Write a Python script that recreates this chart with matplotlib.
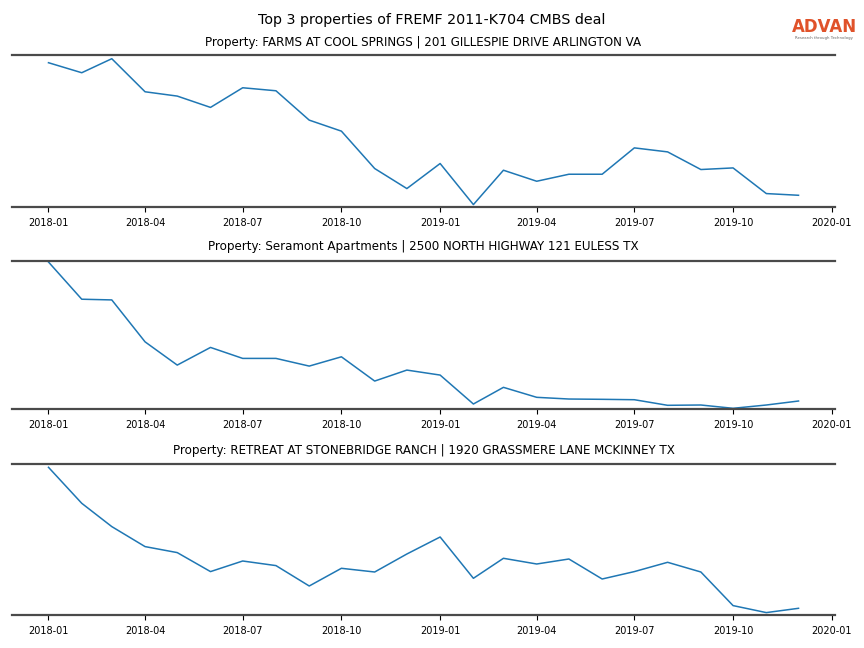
import matplotlib
matplotlib.use("Agg")
import matplotlib.pyplot as plt
import matplotlib.dates as mdates
import pandas as pd

dates = pd.date_range("2018-01-01", "2019-12-01", freq="MS")

titles = [
    "Property: FARMS AT COOL SPRINGS | 201 GILLESPIE DRIVE ARLINGTON VA",
    "Property: Seramont Apartments | 2500 NORTH HIGHWAY 121 EULESS TX",
    "Property: RETREAT AT STONEBRIDGE RANCH | 1920 GRASSMERE LANE MCKINNEY TX",
]

farms = [144, 134, 148, 115, 110.7, 99.4, 119, 116, 86.7, 75.7, 38.4, 18.4,
         43.4, 2.4, 36.7, 25.7, 32.7, 32.7, 59, 55, 37.4, 39, 13.4, 11.7]
seramont = [147.3, 110, 109.3, 67.3, 44, 61.7, 50.7, 50.7, 43, 52.3, 28, 39,
            34, 5, 21.7, 11.7, 10, 9.7, 9.3, 3.7, 4, 0.7, 4, 8]
retreat = [147.7, 111.7, 88.4, 68.4, 62.4, 43.4, 54, 49.4, 29, 46.7, 43, 61,
           78, 36.7, 56.7, 51, 56, 36, 43.4, 52.7, 43, 9.4, 2.4, 6.7]
series = [farms, seramont, retreat]
ylims = [(0, 151.7), (0, 148.3), (0, 151)]

fig = plt.figure(figsize=(8.64, 6.48), dpi=100)
positions = [
    [12/864, 1-207/648, (835-12)/864, (207-55)/648],
    [12/864, 1-409/648, (835-12)/864, (409-261)/648],
    [12/864, 1-615/648, (835-12)/864, (615-464)/648],
]
pads = [6.7, 7.8, 7.3]

for pos, title, vals, yl, pd_ in zip(positions, titles, series, ylims, pads):
    ax = fig.add_axes(pos)
    ax.plot(dates, vals, color="#1f77b4", linewidth=1.1)
    ax.set_ylim(*yl)
    ax.set_xlim(pd.Timestamp("2017-11-28"), pd.Timestamp("2020-01-04"))
    ax.xaxis.set_major_locator(mdates.MonthLocator(bymonth=[1, 4, 7, 10]))
    ax.xaxis.set_major_formatter(mdates.DateFormatter("%Y-%m"))
    ax.tick_params(axis="x", labelsize=7, length=3.5, width=0.8,
                   colors="black", pad=4.5)
    ax.set_yticks([])
    for s in ["left", "right"]:
        ax.spines[s].set_visible(False)
    for s in ["top", "bottom"]:
        ax.spines[s].set_color("#4a4a4a")
        ax.spines[s].set_linewidth(1.6)
    ax.set_title(title, fontsize=8.6, pad=pd_)

fig.text(0.5, 1-20/648, "Top 3 properties of FREMF 2011-K704 CMBS deal",
         ha="center", va="center", fontsize=10.3)
fig.text(824/864, 1-27/648, "ADVAN", ha="center", va="center",
         fontsize=12, color="#e0522a", fontfamily="DejaVu Sans",
         fontweight="bold")
fig.text(824/864, 1-38/648, "Research through Technology", ha="center",
         va="center", fontsize=2.8, color="#666666")

fig.savefig("out.png", dpi=100)
